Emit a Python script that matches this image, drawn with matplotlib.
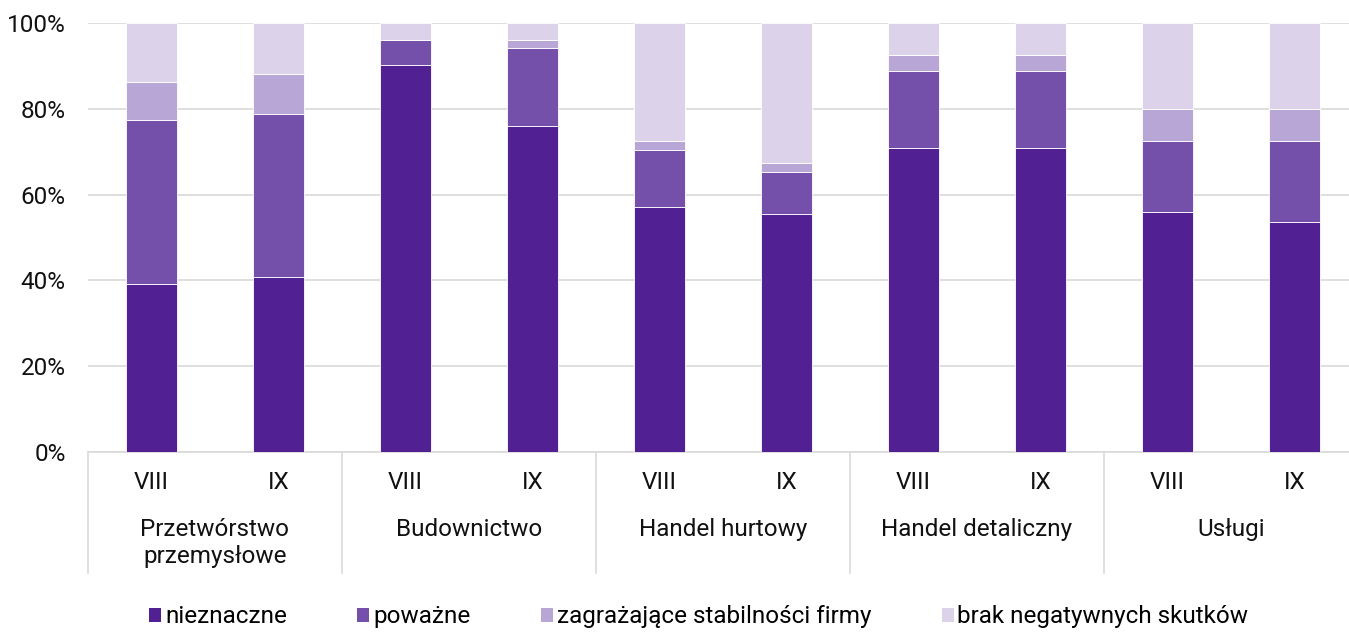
import numpy as np
import matplotlib
matplotlib.use('Agg')
import matplotlib.pyplot as plt
from matplotlib.ticker import PercentFormatter
from matplotlib.patches import Patch

plt.rcParams['font.family'] = ['Roboto', 'DejaVu Sans']

groups = ['Przetwórstwo\nprzemysłowe', 'Budownictwo', 'Handel hurtowy',
          'Handel detaliczny', 'Usługi']
months = ['VIII', 'IX']

series = ['nieznaczne', 'poważne', 'zagrażające stabilności firmy',
          'brak negatywnych skutków']
nieznaczne = [39.2, 40.8, 90.1, 75.9, 57.1, 55.5, 70.9, 70.9, 55.9, 53.6]
powazne = [38.3, 38.1, 5.9, 18.3, 13.2, 9.7, 18.0, 18.0, 16.7, 19.0]
zagrazajace = [8.8, 9.1, 0.0, 1.8, 2.3, 2.2, 3.7, 3.7, 7.3, 7.3]
brak = [13.7, 12.0, 4.0, 4.0, 27.4, 32.6, 7.4, 7.4, 20.1, 20.1]
colors = ['#512194', '#7450AB', '#B8A6D6', '#DCD2E9']

FS = 17.5
W, H = 1349, 633
fig = plt.figure(figsize=(W / 100, H / 100), dpi=100)
ax = fig.add_axes([88 / W, (H - 452) / H, 1 - 88 / W, (452 - 23) / H])

n = len(nieznaczne)
x = np.arange(n)
bottom = np.zeros(n)
for vals, c in zip([nieznaczne, powazne, zagrazajace, brak], colors):
    v = np.array(vals)
    ax.bar(x, v, width=0.4, bottom=bottom, color=c, edgecolor='white',
           linewidth=0.6, zorder=3)
    bottom += v

ax.set_xlim(-0.5, -0.5 + (W - 88) / 127)
ax.set_ylim(0, 100)
ax.set_yticks(np.arange(0, 101, 20))
ax.yaxis.set_major_formatter(PercentFormatter(decimals=0))
ax.grid(axis='y', color='#D9D9D9', linewidth=1.2, zorder=0)
for s in ['left', 'right', 'top']:
    ax.spines[s].set_visible(False)
ax.spines['bottom'].set_color('#D9D9D9')
ax.spines['bottom'].set_linewidth(1.2)
ax.tick_params(axis='y', length=0, labelsize=FS, pad=16, colors='#111111')
ax.set_xticks(x)
ax.set_xticklabels(months * len(groups), fontsize=FS, color='#111111')
ax.tick_params(axis='x', length=0, pad=14)

trans = ax.get_xaxis_transform()
for g in range(len(groups) + 1):
    xs = 2 * g - 0.5
    ax.plot([xs, xs], [0, -121 / 429], transform=trans, color='#D9D9D9',
            lw=1.2, clip_on=False)
for g, name in enumerate(groups):
    ax.text(2 * g + 0.5, -66 / 429, name, transform=trans, ha='center',
            va='top', fontsize=FS, color='#111111', linespacing=1.25)

handles = [Patch(facecolor=c, edgecolor='none') for c in colors]
fig.legend(handles, series, loc='lower center', bbox_to_anchor=(0.518, -0.027),
           ncol=4, frameon=False, fontsize=FS, handlelength=0.5,
           handleheight=0.5, handletextpad=0.15, columnspacing=2.9)

fig.savefig('out.png', dpi=100)
